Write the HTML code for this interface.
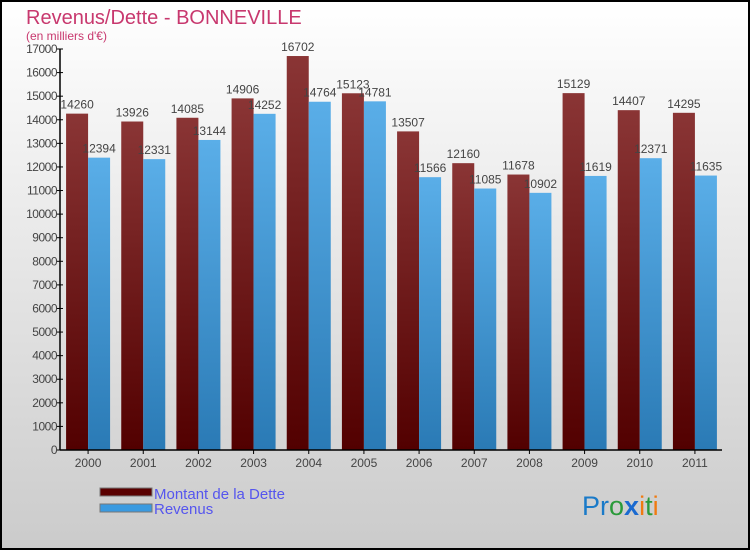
<!DOCTYPE html>
<html><head><meta charset="utf-8"><style>
body{margin:0;width:750px;height:550px;overflow:hidden}
svg{display:block;font-family:"Liberation Sans",sans-serif}
</style></head><body>
<svg width="750" height="550" xmlns="http://www.w3.org/2000/svg">
<defs>
<linearGradient id="bg" x1="0" y1="0" x2="0" y2="1"><stop offset="0" stop-color="#ffffff"/><stop offset="1" stop-color="#cbcbcb"/></linearGradient>
<linearGradient id="gd" x1="0" y1="0" x2="0" y2="1"><stop offset="0" stop-color="#8a3535"/><stop offset="1" stop-color="#520000"/></linearGradient>
<linearGradient id="gr" x1="0" y1="0" x2="0" y2="1"><stop offset="0" stop-color="#5aaee8"/><stop offset="1" stop-color="#2a7ab5"/></linearGradient>
</defs>
<rect x="1" y="1" width="748" height="548" fill="url(#bg)" stroke="#000" stroke-width="2"/>
<text x="26" y="24" font-size="20" fill="#c8386e">Revenus/Dette - BONNEVILLE</text>
<text x="26" y="40" font-size="12" fill="#c8386e">(en milliers d'€)</text>
<g id="plot"></g>
<rect x="100" y="488" width="52" height="8" fill="#5a0000" stroke="#777" stroke-width="1"/>
<text x="154" y="499" font-size="15" fill="#5555ee">Montant de la Dette</text>
<rect x="100" y="504" width="52" height="8" fill="#3a9ae0" stroke="#777" stroke-width="1"/>
<text x="154" y="514" font-size="15" fill="#5555ee">Revenus</text>
<text x="582" y="515" font-size="27"><tspan fill="#1a7ac8">Pr</tspan><tspan fill="#2a9a3a">o</tspan><tspan fill="#1a6ad0" font-weight="bold">x</tspan><tspan fill="#f07a10">i</tspan><tspan fill="#2a9a3a">t</tspan><tspan fill="#f07a10">i</tspan></text>
</svg>
<script>
const years=["2000","2001","2002","2003","2004","2005","2006","2007","2008","2009","2010","2011"];
const debt=[14260,13926,14085,14906,16702,15123,13507,12160,11678,15129,14407,14295];
const revenue=[12394,12331,13144,14252,14764,14781,11566,11085,10902,11619,12371,11635];
const ticks=[0,1000,2000,3000,4000,5000,6000,7000,8000,9000,10000,11000,12000,13000,14000,15000,16000,17000];
const NS="http://www.w3.org/2000/svg";
const g=document.getElementById('plot');
const y0=450,yTop=49,ymax=17000,x0=60,x1=722;
const y=v=>y0-(v/ymax)*(y0-yTop);
const step=(x1-x0)/years.length;
const xc=i=>x0+step*(i+0.5)+0.5;
function mk(t,a){const e=document.createElementNS(NS,t);for(const k in a)e.setAttribute(k,a[k]);g.appendChild(e);return e;}
years.forEach((yr,i)=>{
 const c=xc(i);
 let b=mk('rect',{x:c-22,y:y(debt[i]),width:22,height:y0-y(debt[i]),fill:'url(#gd)'});
 
 
 let r=mk('rect',{x:c,y:y(revenue[i]),width:22,height:y0-y(revenue[i]),fill:'url(#gr)'});
 
 
 let t1=mk('text',{x:c-11,y:y(debt[i])-5,'font-size':12,fill:'#444','text-anchor':'middle'});t1.textContent=debt[i];
 
 
 let t2=mk('text',{x:c+11,y:y(revenue[i])-5,'font-size':12,fill:'#444','text-anchor':'middle'});t2.textContent=revenue[i];
 
 
 let tk=mk('line',{x1:c,x2:c,y1:y0,y2:y0+4,stroke:'#000'});
 
 
 let xl=mk('text',{x:c,y:y0+17,'font-size':12,fill:'#444','text-anchor':'middle'});xl.textContent=yr;
 
 
});
ticks.forEach(v=>{
 let l=mk('line',{x1:x0-3,x2:x0+3,y1:y(v),y2:y(v),stroke:'#000'});
 
 
 let t=mk('text',{x:x0-3,y:y(v)+4,'font-size':12,fill:'#444','text-anchor':'end','letter-spacing':'-0.5'});t.textContent=v;
 
 
});
let ya=mk('line',{x1:x0,x2:x0,y1:yTop,y2:y0,stroke:'#000','stroke-width':1.5});


let xa=mk('line',{x1:x0,x2:x1,y1:y0,y2:y0,stroke:'#000','stroke-width':1.5});


</script>
</body></html>
